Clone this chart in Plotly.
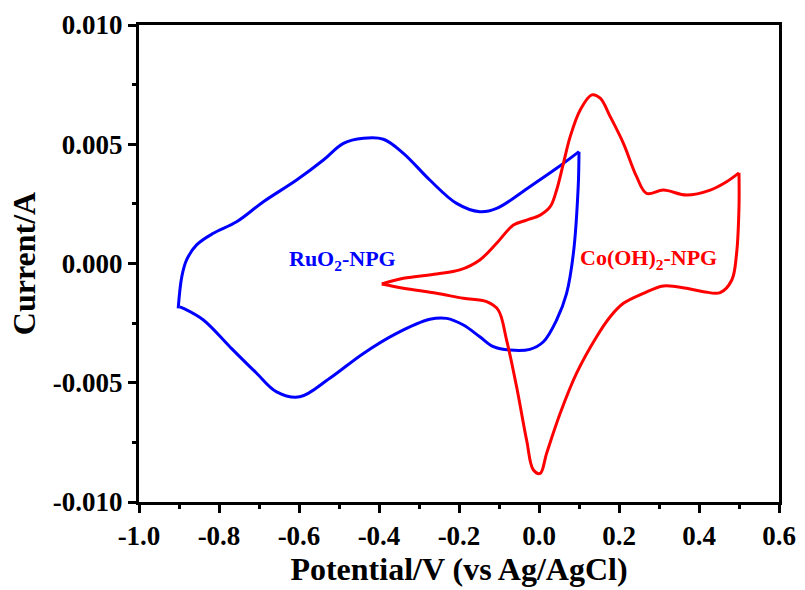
import plotly.graph_objects as go

# RuO2-NPG (blue) : anodic sweep (-0.9 -> 0.1 V) and cathodic sweep (0.1 -> -0.9 V)
ru_fwd_x = [-0.902, -0.893, -0.881, -0.856, -0.814, -0.756, -0.689, -0.606, -0.539, -0.489,
            -0.439, -0.389, -0.339, -0.273, -0.206, -0.148, -0.106, -0.023, 0.044, 0.100]
ru_fwd_y = [-0.00188, -0.00055, 0.00015, 0.00078, 0.00127, 0.00175, 0.00259, 0.00350, 0.00434, 0.00504,
            0.00525, 0.00521, 0.00462, 0.00350, 0.00252, 0.00217, 0.00231, 0.00322, 0.00399, 0.00469]
ru_rev_x = [0.100, 0.098, 0.086, 0.069, 0.044, 0.011, -0.023, -0.073, -0.114, -0.148, -0.189,
            -0.231, -0.273, -0.356, -0.439, -0.523, -0.598, -0.656, -0.706, -0.773, -0.839, -0.889, -0.898]
ru_rev_y = [0.00469, 0.00322, 0.00043, -0.00125, -0.00237, -0.00328, -0.00360, -0.00363, -0.00349, -0.00307, -0.00258,
            -0.00230, -0.00234, -0.00293, -0.00377, -0.00481, -0.00559, -0.00538, -0.00460, -0.00349, -0.00237, -0.00188, -0.00182]

# Co(OH)2-NPG (red)
co_fwd_x = [-0.393, -0.339, -0.256, -0.198, -0.148, -0.106, -0.064, -0.031, 0.003, 0.028, 0.044, 0.061,
            0.078, 0.103, 0.132, 0.153, 0.178, 0.211, 0.244, 0.269, 0.311, 0.369, 0.428, 0.469, 0.500]
co_fwd_y = [-0.00086, -0.00062, -0.00044, -0.00027, 0.00015, 0.00085, 0.00161, 0.00182, 0.00203, 0.00238, 0.00308, 0.00420,
            0.00532, 0.00644, 0.00707, 0.00693, 0.00616, 0.00504, 0.00364, 0.00294, 0.00308, 0.00287, 0.00308, 0.00343, 0.00380]
co_rev_x = [0.500, 0.500, 0.494, 0.482, 0.453, 0.411, 0.369, 0.311, 0.261, 0.211, 0.178, 0.144, 0.094, 0.053,
            0.019, 0.003, -0.014, -0.031, -0.056, -0.081, -0.102, -0.131, -0.189, -0.256, -0.339, -0.393]
co_rev_y = [0.00380, 0.00238, 0.00043, -0.00069, -0.00122, -0.00118, -0.00104, -0.00094, -0.00125, -0.00167, -0.00223, -0.00307, -0.00460, -0.00628,
            -0.00796, -0.00880, -0.00866, -0.00740, -0.00517, -0.00321, -0.00195, -0.00160, -0.00146, -0.00125, -0.00104, -0.00086]

x_tick_vals = [-1.0, -0.8, -0.6, -0.4, -0.2, 0.0, 0.2, 0.4, 0.6]
x_tick_text = ["-1.0", "-0.8", "-0.6", "-0.4", "-0.2", "0.0", "0.2", "0.4", "0.6"]
y_tick_vals = [-0.010, -0.005, 0.0, 0.005, 0.010]
y_tick_text = ["-0.010", "-0.005", "0.000", "0.005", "0.010"]

FONT = "Liberation Serif"
BLUE = "#0000ff"
RED = "#ff0000"

fig = go.Figure()
for xs, ys, c in [(ru_fwd_x, ru_fwd_y, BLUE), (ru_rev_x, ru_rev_y, BLUE),
                  (co_fwd_x, co_fwd_y, RED), (co_rev_x, co_rev_y, RED)]:
    fig.add_trace(go.Scatter(x=xs, y=ys, mode="lines",
                             line=dict(color=c, width=3, shape="spline", smoothing=1.0),
                             showlegend=False, hoverinfo="skip"))

fig.add_annotation(x=-0.4925, y=0.00015, text="<b>RuO<sub>2</sub>-NPG</b>", showarrow=False,
                   font=dict(family=FONT, size=22, color=BLUE))
fig.add_annotation(x=0.274, y=0.0002, text="<b>Co(OH)<sub>2</sub>-NPG</b>", showarrow=False,
                   font=dict(family=FONT, size=22, color=RED))

tickfont = dict(family=FONT, size=27, color="black", weight="bold")
axis_common = dict(showline=True, linecolor="black", linewidth=3, mirror=True,
                   ticks="outside", tickwidth=3, ticklen=8, tickcolor="black",
                   showgrid=False, zeroline=False, automargin=False,
                   tickfont=tickfont)

fig.update_xaxes(range=[-1.0, 0.6], tickvals=x_tick_vals, ticktext=x_tick_text,
                 minor=dict(ticks="outside", dtick=0.1, ticklen=4, tickwidth=3, tickcolor="black", showgrid=False),
                 title=dict(text="<b>Potential/V (vs Ag/AgCl)</b>", font=dict(family=FONT, size=32, color="black"), standoff=8),
                 **axis_common)
fig.update_yaxes(range=[-0.010, 0.010], tickvals=y_tick_vals, ticktext=y_tick_text,
                 minor=dict(ticks="outside", dtick=0.0025, ticklen=4, tickwidth=3, tickcolor="black", showgrid=False),
                 title=dict(text="<b>Current/A</b>", font=dict(family=FONT, size=32, color="black"), standoff=8),
                 **axis_common)

fig.update_layout(width=805, height=590, margin=dict(l=139, r=26, t=25, b=88),
                  plot_bgcolor="white", paper_bgcolor="white",
                  font=dict(family=FONT))
fig.write_html("out.html", config={"displayModeBar": False},
               post_script="document.body.style.margin='0';")
